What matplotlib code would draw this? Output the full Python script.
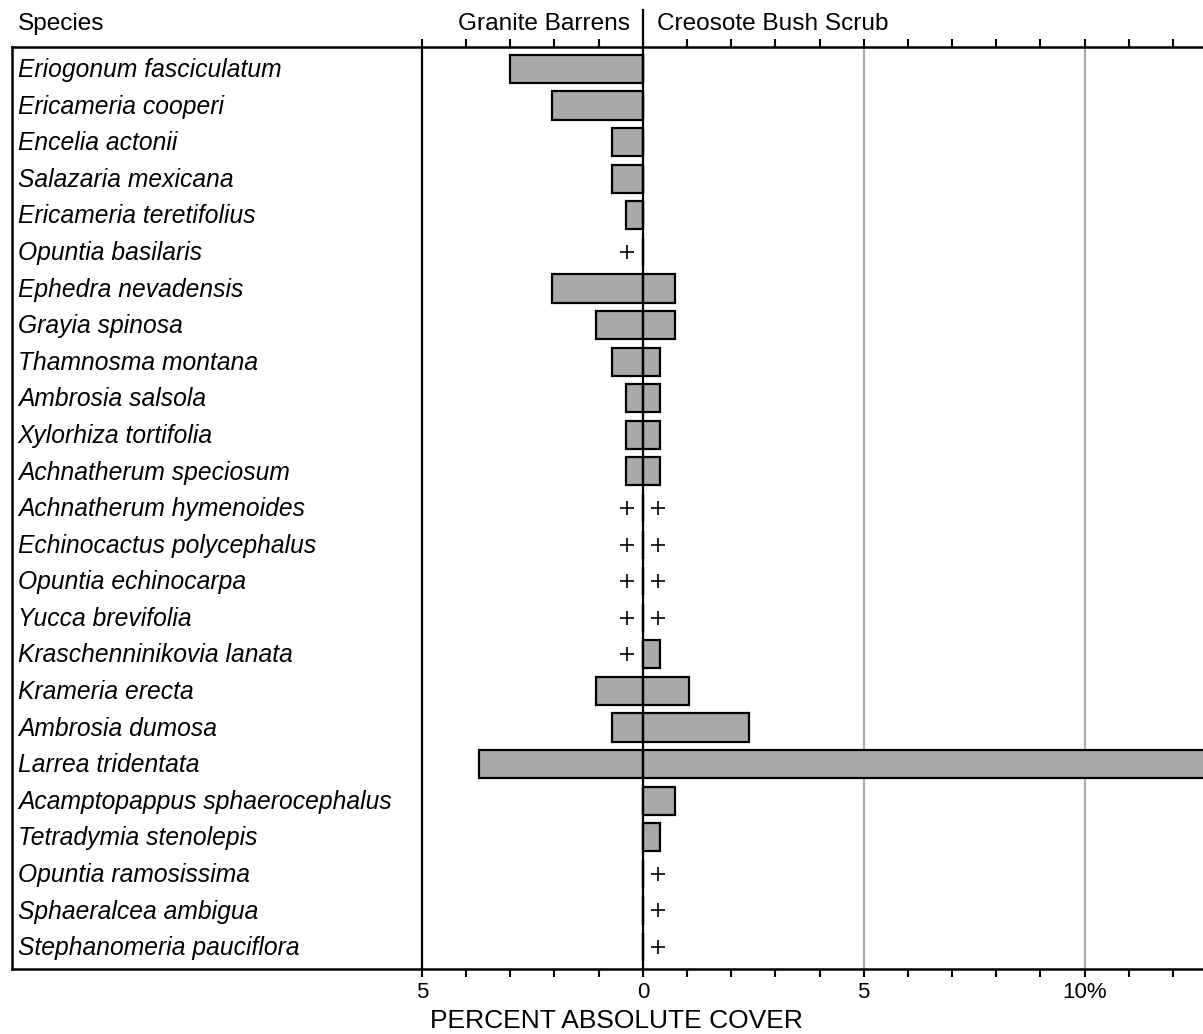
import numpy as np
import matplotlib.pyplot as plt

plt.rcParams['font.family'] = ['Liberation Sans', 'DejaVu Sans']

# ---------- data ----------
species = [
    "Eriogonum fasciculatum", "Ericameria cooperi", "Encelia actonii",
    "Salazaria mexicana", "Ericameria teretifolius", "Opuntia basilaris",
    "Ephedra nevadensis", "Grayia spinosa", "Thamnosma montana",
    "Ambrosia salsola", "Xylorhiza tortifolia", "Achnatherum speciosum",
    "Achnatherum hymenoides", "Echinocactus polycephalus", "Opuntia echinocarpa",
    "Yucca brevifolia", "Kraschenninikovia lanata", "Krameria erecta",
    "Ambrosia dumosa", "Larrea tridentata", "Acamptopappus sphaerocephalus",
    "Tetradymia stenolepis", "Opuntia ramosissima", "Sphaeralcea ambigua",
    "Stephanomeria pauciflora",
]
# percent cover, 0 = absent
granite = [3.0, 2.05, 0.7, 0.7, 0.38, 0, 2.05, 1.05, 0.7, 0.38, 0.38, 0.38,
           0, 0, 0, 0, 0, 1.05, 0.7, 3.7, 0, 0, 0, 0, 0]
creosote = [0, 0, 0, 0, 0, 0, 0.72, 0.72, 0.38, 0.38, 0.38, 0.38,
            0, 0, 0, 0, 0.38, 1.05, 2.4, 13.0, 0.72, 0.38, 0, 0, 0]
# trace amounts shown as "+"
granite_trace = [0, 0, 0, 0, 0, 1, 0, 0, 0, 0, 0, 0,
                 1, 1, 1, 1, 1, 0, 0, 0, 0, 0, 0, 0, 0]
creosote_trace = [0, 0, 0, 0, 0, 0, 0, 0, 0, 0, 0, 0,
                  1, 1, 1, 1, 0, 0, 0, 0, 0, 0, 1, 1, 1]

tick_pos = [-5, 0, 5, 10]
tick_lab = ["5", "0", "5", "10%"]

# ---------- plot ----------
fig = plt.figure(figsize=(12.03, 10.34), dpi=100)
ax = fig.add_axes([12 / 1203, 65 / 1034, 1 - 12 / 1203, (969 - 47) / 1034])

y = np.arange(len(species))
g = np.array(granite)
c = np.array(creosote)
ax.barh(y, -g, height=0.77, color='#a9a9a9', edgecolor='black', linewidth=1.6, zorder=3)
ax.barh(y, c, height=0.77, color='#a9a9a9', edgecolor='black', linewidth=1.6, zorder=3)

gt = np.array(granite_trace, dtype=bool)
ct = np.array(creosote_trace, dtype=bool)
ax.scatter(np.full(gt.sum(), -0.35), y[gt], marker='+', s=110, c='black', linewidths=1.2, zorder=4)
ax.scatter(np.full(ct.sum(), 0.35), y[ct], marker='+', s=110, c='black', linewidths=1.2, zorder=4)

ax.axvline(-5, color='black', lw=1.6, zorder=2)
ax.axvline(0, color='black', lw=1.6, zorder=5)
for v in (5, 10):
    ax.axvline(v, color='#aaaaaa', lw=1.6, zorder=1)
# divider above the frame
ax.plot([0, 0], [-0.6, -1.6], color='black', lw=1.6, clip_on=False)

for i, name in enumerate(species):
    ax.text(-14.15, i + 0.03, name, style='italic', fontsize=17.7, va='center', ha='left')

ax.set_xlim(-14.28, 12.68)
ax.set_ylim(len(species) - 0.4, -0.6)

ax.set_xticks(tick_pos)
ax.set_xticklabels(tick_lab, fontsize=16)
ax.set_xticks(np.arange(-5, 13), minor=True)
ax.tick_params(axis='x', which='both', top=True, direction='out', length=6,
               width=1.5, pad=3)
ax.set_yticks([])
for s in ax.spines.values():
    s.set_linewidth(1.8)
ax.spines['right'].set_visible(False)

fig.text(18 / 1203, 1 - 24 / 1034, "Species", fontsize=17.6, va='center', ha='left')
fig.text(630 / 1203, 1 - 24 / 1034, "Granite Barrens", fontsize=17.6, va='center', ha='right')
fig.text(657 / 1203, 1 - 24 / 1034, "Creosote Bush Scrub", fontsize=17.6, va='center', ha='left')
fig.text(430 / 1203, 1 - 1021 / 1034, "PERCENT ABSOLUTE COVER", fontsize=19, va='center', ha='left')

fig.savefig('out.png', dpi=100)
